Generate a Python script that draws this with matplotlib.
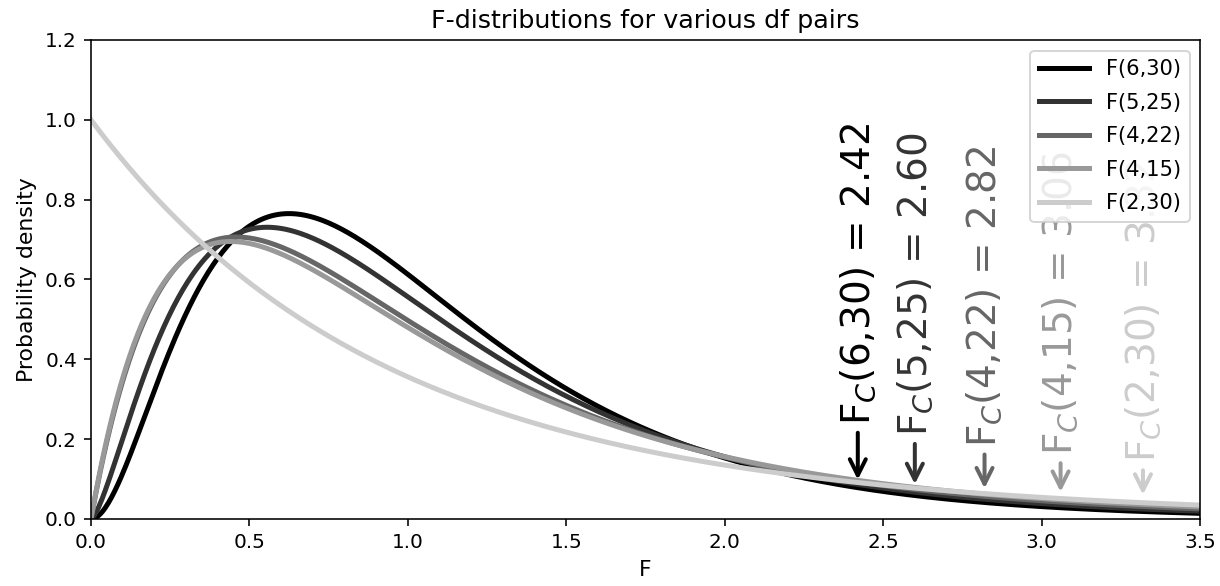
import math
import numpy as np
import matplotlib
matplotlib.use("Agg")
import matplotlib.pyplot as plt

# df pairs and their 5% critical values, as printed on the chart
dfn = [6, 5, 4, 4, 2]
dfd = [30, 25, 22, 15, 30]
f_crit = [2.42, 2.60, 2.82, 3.06, 3.32]
colours = ["0.0", "0.2", "0.4", "0.6", "0.8"]


def f_pdf(x, d1, d2):
    # density of the F distribution
    logc = (math.lgamma((d1 + d2) / 2) - math.lgamma(d1 / 2) - math.lgamma(d2 / 2)
            + (d1 / 2) * math.log(d1 / d2))
    x = np.asarray(x, dtype=float)
    with np.errstate(divide="ignore", invalid="ignore"):
        y = np.exp(logc + (d1 / 2 - 1) * np.log(x)
                   - ((d1 + d2) / 2) * np.log1p(d1 / d2 * x))
    if d1 == 2:
        y = np.where(x == 0, math.exp(logc), y)
    return np.nan_to_num(y)


dpi = 144
fig, ax = plt.subplots(figsize=(1220 / dpi, 586 / dpi), dpi=dpi)

x = np.linspace(0, 3.5, 700)
for d1, d2, c in zip(dfn, dfd, colours):
    ax.plot(x, f_pdf(x, d1, d2), color=c, lw=2.5, label=f"F({d1},{d2})")

for d1, d2, fc, c in zip(dfn, dfd, f_crit, colours):
    p = float(f_pdf(fc, d1, d2))
    ax.annotate(f"F$_C$({d1},{d2}) = {fc:.2f}", xy=(fc, p + 0.01),
                xytext=(fc, p * 2.5 + 0.04), rotation=90, color=c,
                fontsize=19.5, ha="center", va="bottom",
                arrowprops=dict(arrowstyle="->", color=c, lw=2,
                                mutation_scale=20))

ax.set_xlim(0, 3.5)
ax.set_ylim(0, 1.2)
ax.set_title("F-distributions for various df pairs", fontsize=12.7)
ax.set_xlabel("F", fontsize=11)
ax.set_ylabel("Probability density", fontsize=11)
ax.legend(loc="upper right", fontsize=10.5, labelspacing=0.65, handlelength=2.4)

fig.subplots_adjust(left=91 / 1220, right=1200 / 1220, top=1 - 40 / 586, bottom=1 - 519 / 586)
fig.savefig("out.png", dpi=dpi)
